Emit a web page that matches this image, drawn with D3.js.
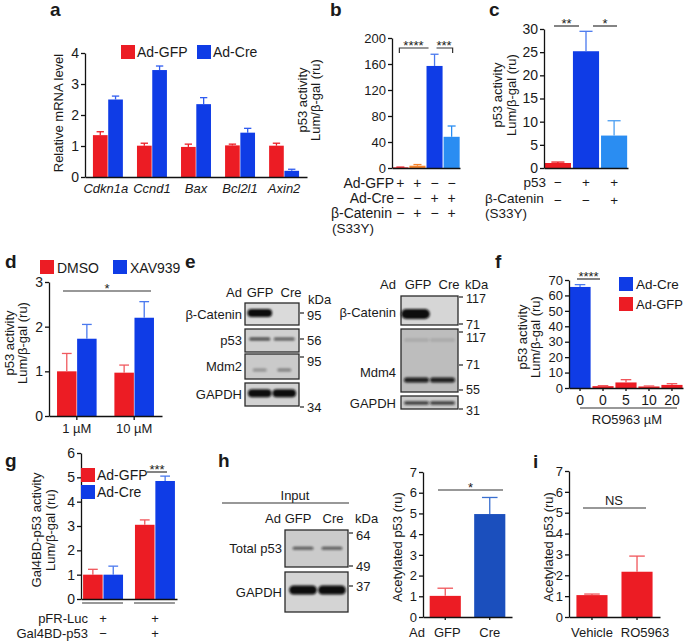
<!DOCTYPE html>
<html><head><meta charset="utf-8">
<script src="https://cdn.jsdelivr.net/npm/d3@7"></script>
<style>body{margin:0;background:#fff}</style>
</head><body><script>
// ================= DATA =================
const aGenes = ["Cdkn1a","Ccnd1","Bax","Bcl2l1","Axin2"];
const aSeries = ["Ad-GFP","Ad-Cre"];
const aGFP = [1.35,1.01,0.97,1.02,1.01];
const aGFPErr = [0.11,0.08,0.09,0.04,0.08];
const aCre = [2.5,3.45,2.35,1.43,0.2];
const aCreErr = [0.11,0.13,0.21,0.14,0.05];
const aTicks = [0,1,2,3,4];

const bConds = ["GFP","GFP+bCat","Cre","Cre+bCat"];
const bValues = [1,3.5,157,48];
const bErr = [0.4,1.8,18,16.6];
const bTicks = [0,40,80,120,160,200];
const bRowLabels = ["Ad-GFP","Ad-Cre","β-Catenin"];
const bRowSigns = [["+","+","−","−"],["−","−","+","+"],["−","+","−","+"]];

const cConds = ["ctrl","p53","p53+bCat"];
const cValues = [1.08,25.2,7.0];
const cErr = [0.2,4.3,3.2];
const cTicks = [0,5,10,15,20,25,30];
const cRowLabels = ["p53","β-Catenin"];
const cRowSigns = [["−","+","+"],["−","−","+"]];

const dDoses = ["1 µM","10 µM"];
const dSeries = ["DMSO","XAV939"];
const dDMSO = [1.0,0.97];
const dDMSOErr = [0.4,0.17];
const dXAV = [1.73,2.2];
const dXAVErr = [0.32,0.36];
const dTicks = [0,1,2,3];

const eLanes = ["GFP","Cre"];
const eLeftProteins = ["β-Catenin","p53","Mdm2","GAPDH"];
const eLeftMarkers = ["95","56","95","34"];
const eLeftBands = [[1,0],[0.7,0.6],[0.3,0.4],[1,1]];
const eRightProteins = ["β-Catenin","Mdm4","GAPDH"];
const eRightMarkers = ["117","71","117","71","55","31"];
const eRightBands = [[1,0],[0.9,0.9],[0.75,0.75]];

const fDoses = ["0","0","5","10","20"];
const fGroup = ["Ad-Cre","Ad-GFP","Ad-GFP","Ad-GFP","Ad-GFP"];
const fValues = [65.5,1.2,3.6,1.0,2.0];
const fErr = [1.5,0.3,1.8,0.3,0.8];
const fTicks = [0,10,20,30,40,50,60,70];

const gConds = ["no Gal4BD-p53","Gal4BD-p53"];
const gSeries = ["Ad-GFP","Ad-Cre"];
const gGFP = [1.0,3.05];
const gGFPErr = [0.22,0.2];
const gCre = [1.0,4.85];
const gCreErr = [0.35,0.2];
const gTicks = [0,1,2,3,4,5,6];
const gRowLabels = ["pFR-Luc","Gal4BD-p53"];
const gRowSigns = [["+","+"],["−","+"]];

const hLanes = ["GFP","Cre"];
const hProteins = ["Total p53","GAPDH"];
const hMarkers = ["64","49","37"];
const hBands = [[0.6,0.6],[1,1]];
const hValues = [1.02,4.97];
const hErr = [0.37,0.8];
const hTicks = [0,1,2,3,4,5,6,7];

const iConds = ["Vehicle","RO5963"];
const iValues = [1.05,2.17];
const iErr = [0.05,0.75];
const iTicks = [0,1,2,3,4,5,6,7];

// ================= STYLE =================
const FONT = '"Liberation Sans", Arial, Helvetica, sans-serif';
const RED = "#ec1c24", ORANGE = "#f4822a", BLUE = "#0f3ce6", LBLUE = "#2a8df2", DBLUE = "#1b4fbd";
const INK = "#1a1a1a";

const svg = d3.select("body").append("svg").attr("width",685).attr("height",641)
  .attr("font-family",FONT);
svg.append("rect").attr("width",685).attr("height",641).attr("fill","#fff");
const defs = svg.append("defs");
defs.append("filter").attr("id","blur").attr("x","-50%").attr("y","-100%").attr("width","200%").attr("height","300%")
  .append("feGaussianBlur").attr("stdDeviation",1.0);

function label(x,y,s,o={}){
  const t = svg.append("text").attr("x",x).attr("y",y).text(s)
    .attr("font-size",o.size||13).attr("text-anchor",o.anchor||"start").attr("fill",INK);
  if(o.bold) t.attr("font-weight","bold");
  if(o.italic) t.attr("font-style","italic");
  if(o.mid) t.attr("dy","0.35em");
  if(o.rot) t.attr("transform",`rotate(-90,${x},${y})`);
  return t;
}
function styleAxis(g,size){
  g.selectAll("path,line").attr("stroke","#111").attr("stroke-width",1.3);
  g.selectAll("text").attr("font-size",size).attr("fill",INK).attr("font-family",FONT);
}
function yAxis(scale,x,ticks,size){
  const g = svg.append("g").attr("transform",`translate(${x},0)`)
    .call(d3.axisLeft(scale).tickValues(ticks).tickFormat(d3.format("d")).tickSize(4).tickSizeOuter(0).tickPadding(2));
  styleAxis(g,size);
}
function xAxis(scale,y,tick){
  const g = svg.append("g").attr("transform",`translate(0,${y})`)
    .call(d3.axisBottom(scale).tickSize(tick).tickSizeOuter(0).tickFormat(""));
  styleAxis(g,12);
}
function bar(x,w,yScale,v,e,color,ecolor){
  const y0 = yScale(0), yt = yScale(v), ye = yScale(v+e), cx = x+w/2;
  svg.append("rect").attr("x",x).attr("y",yt).attr("width",w).attr("height",y0-yt).attr("fill",color);
  const cap = Math.min(16, w*0.5);
  const ec = ecolor||color;
  svg.append("line").attr("x1",cx).attr("x2",cx).attr("y1",yt).attr("y2",ye).attr("stroke",ec).attr("stroke-width",1.3);
  svg.append("line").attr("x1",cx-cap/2).attr("x2",cx+cap/2).attr("y1",ye).attr("y2",ye).attr("stroke",ec).attr("stroke-width",1.3);
}
function hline(x1,x2,y,w){
  svg.append("line").attr("x1",x1).attr("x2",x2).attr("y1",y).attr("y2",y).attr("stroke","#333").attr("stroke-width",w||1.2);
}
function sig(x1,x2,y,s,size){
  hline(x1,x2,y);
  label((x1+x2)/2,y+2,s,{anchor:"middle",size:size||13});
}
function swatch(x,y,color){
  svg.append("rect").attr("x",x).attr("y",y).attr("width",14).attr("height",14).attr("fill",color);
}
function box(x0,x1,y0,y1,fill){
  svg.append("rect").attr("x",x0).attr("y",y0).attr("width",x1-x0).attr("height",y1-y0)
    .attr("fill",fill).attr("stroke","#2a2a2a").attr("stroke-width",1.3);
}
function band(cx,cy,w,h,op){
  if(op<=0) return;
  svg.append("rect").attr("x",cx-w/2).attr("y",cy-h/2).attr("width",w).attr("height",h)
    .attr("rx",Math.min(h/2,w/2)).attr("fill","#0c0c0c").attr("opacity",op).attr("filter","url(#blur)");
}
function marker(x,y,s,ly,size){
  svg.append("line").attr("x1",x).attr("x2",x+4).attr("y1",y).attr("y2",y).attr("stroke","#222").attr("stroke-width",1.2);
  label(x+7,ly==null?y:ly,s,{mid:true,size:size||13});
}

// ================= PANEL a =================
label(50,16,"a",{bold:true,size:19});
{
  const y = d3.scaleLinear().domain([0,4]).range([177,53]);
  const x = d3.scaleBand().domain(aGenes).range([85,307]).paddingInner(0.32).paddingOuter(0.18);
  const xs = d3.scaleBand().domain(aSeries).range([0,x.bandwidth()]).paddingInner(0.04);
  aGenes.forEach((g,i)=>{
    bar(x(g)+xs("Ad-GFP"),xs.bandwidth(),y,aGFP[i],aGFPErr[i],RED);
    bar(x(g)+xs("Ad-Cre"),xs.bandwidth(),y,aCre[i],aCreErr[i],BLUE,"#2f5cf0");
    label(x(g)+x.bandwidth()/2+(i===0?-2:0),193,g,{anchor:"middle",italic:true,size:13});
  });
  xAxis(x,y(0),0);
  yAxis(y,85,aTicks,14);
  label(58,113,"Relative mRNA level",{anchor:"middle",mid:true,rot:true,size:13});
  swatch(121,45,RED); label(137,57,aSeries[0],{size:14});
  swatch(197,45,BLUE); label(213,57,aSeries[1],{size:14});
}

// ================= PANEL b =================
label(330,16,"b",{bold:true,size:19});
{
  const y = d3.scaleLinear().domain([0,200]).range([168,38]);
  const x = d3.scaleBand().domain(bConds).range([392,460]).paddingInner(0.06).paddingOuter(0.02);
  const cols = [RED,ORANGE,BLUE,LBLUE];
  const ecols = [RED,ORANGE,"#4a79ee",LBLUE];
  bConds.forEach((c,i)=>bar(x(c),x.bandwidth(),y,bValues[i],bErr[i],cols[i],ecols[i]));
  xAxis(x,y(0),0);
  yAxis(y,392,bTicks,13);
  label(302,100,"p53 activity",{anchor:"middle",mid:true,rot:true,size:13});
  label(315,100,"Lum/β-gal (ru)",{anchor:"middle",mid:true,rot:true,size:13});
  const cx = c=>x(c)+x.bandwidth()/2;
  const by = 48;
  svg.append("path").attr("d",`M${cx(bConds[0])-1},${by+5}V${by}H${cx(bConds[2])-6}`).attr("fill","none").attr("stroke","#333").attr("stroke-width",1.2);
  svg.append("path").attr("d",`M${cx(bConds[2])+2},${by}H${cx(bConds[3])+1}V${by+5}`).attr("fill","none").attr("stroke","#333").attr("stroke-width",1.2);
  label((cx(bConds[0])+cx(bConds[2]))/2-4,by+2,"****",{anchor:"middle",size:13});
  label((cx(bConds[2])+cx(bConds[3]))/2+1,by+2,"***",{anchor:"middle",size:13});
  const rowY = [188,203,218];
  bRowLabels.forEach((r,ri)=>{
    label(ri==2?331:394,rowY[ri],r,{anchor:ri==2?"start":"end",size:14});
    bConds.forEach((c,i)=>label(cx(c),rowY[ri],bRowSigns[ri][i],{anchor:"middle",size:14}));
  });
  label(332,233,"(S33Y)",{size:13.5});
}

// ================= PANEL c =================
label(489,16,"c",{bold:true,size:19});
{
  const y = d3.scaleLinear().domain([0,30]).range([168,29]);
  const x = d3.scaleBand().domain(cConds).range([544,628]).paddingInner(0.07).paddingOuter(0.03);
  const cols = [RED,BLUE,LBLUE];
  const ecols = [RED,"#4a79ee","#4a9ef2"];
  cConds.forEach((c,i)=>bar(x(c),x.bandwidth(),y,cValues[i],cErr[i],cols[i],ecols[i]));
  xAxis(x,y(0),0);
  yAxis(y,544,cTicks,14);
  label(497,95,"p53 activity",{anchor:"middle",mid:true,rot:true,size:13});
  label(511,95,"Lum/β-gal (ru)",{anchor:"middle",mid:true,rot:true,size:13});
  sig(554,579,26,"**");
  sig(593,617,26,"*");
  const cx = c=>x(c)+x.bandwidth()/2;
  label(546,187,cRowLabels[0],{anchor:"end",size:13.5});
  cConds.forEach((c,i)=>label(cx(c),187,cRowSigns[0][i],{anchor:"middle",size:13.5}));
  label(485,203,cRowLabels[1],{size:13.5});
  cConds.forEach((c,i)=>label(cx(c),205,cRowSigns[1][i],{anchor:"middle",size:13.5}));
  label(485,218,"(S33Y)",{size:13.5});
}

// ================= PANEL d =================
label(5,268,"d",{bold:true,size:19});
{
  const y = d3.scaleLinear().domain([0,3]).range([416,282]);
  const x = d3.scaleBand().domain(dDoses).range([49,162]).paddingInner(0.31).paddingOuter(0.14);
  const xs = d3.scaleBand().domain(dSeries).range([0,x.bandwidth()]).paddingInner(0.03);
  dDoses.forEach((d,i)=>{
    bar(x(d)+xs("DMSO"),xs.bandwidth(),y,dDMSO[i],dDMSOErr[i],RED,"#f05a5f");
    bar(x(d)+xs("XAV939"),xs.bandwidth(),y,dXAV[i],dXAVErr[i],BLUE,"#4a79ee");
    label(x(d)+x.bandwidth()/2,433,d,{anchor:"middle",size:13});
  });
  xAxis(x,y(0),4);
  yAxis(y,49,dTicks,14);
  label(9,343,"p53 activity",{anchor:"middle",mid:true,rot:true,size:13});
  label(22,343,"Lum/β-gal (ru)",{anchor:"middle",mid:true,rot:true,size:13});
  sig(63,151,291,"*");
  swatch(40,260,RED); label(57,273,dSeries[0],{size:14});
  swatch(113,260,BLUE); label(130,273,dSeries[1],{size:14});
}

// ================= PANEL e =================
label(185,268,"e",{bold:true,size:19});
{
  const lx = d3.scaleBand().domain(eLanes).range([247,297]).padding(0.04);
  const rows = [[303,325],[329,352],[354,379],[383,406]];
  const fills = ["#dadada","#d0d0d0","#cacaca","#d2d2d2"];
  const bpos = [0.45,0.43,0.64,0.45], bh = [8,3,3,8], bw = [1.05,0.9,0.6,1.0];
  label(226,297,"Ad",{size:13});
  label(260,297,"GFP",{anchor:"middle",size:13});
  label(291,297,"Cre",{anchor:"middle",size:13});
  label(308,304,"kDa",{size:13});
  eLeftProteins.forEach((p,ri)=>{
    const [y0,y1] = rows[ri];
    box(245,299,y0,y1,fills[ri]);
    label(242,(y0+y1)/2,p,{anchor:"end",mid:true,size:13});
    eLanes.forEach((l,li)=>band(lx(l)+lx.bandwidth()/2,y0+(y1-y0)*bpos[ri],lx.bandwidth()*bw[ri],bh[ri],eLeftBands[ri][li]));
  });
  const lmY = [313,339,357,407];
  const lmL = [315,340,361,407];
  eLeftMarkers.forEach((m,i)=>marker(300,lmY[i],m,lmL[i]));

  const rx = d3.scaleBand().domain(eLanes).range([403,456]).padding(0.04);
  const rrows = [[296,325],[329,392],[396,409]];
  const rfills = ["#d6d6d6","#bdbdbd","#cbcbcb"];
  const rpos = [0.62,0.81,0.54], rh = [10,5,3.5], rw = [1.15,1.0,1.0];
  label(380,289,"Ad",{size:13});
  label(418,289,"GFP",{anchor:"middle",size:13});
  label(449,289,"Cre",{anchor:"middle",size:13});
  label(465,289,"kDa",{size:13});
  eRightProteins.forEach((p,ri)=>{
    const [y0,y1] = rrows[ri];
    box(401,458,y0,y1,rfills[ri]);
    label(396,ri==1?372:(ri==0?312:403),p,{anchor:"end",mid:true,size:13});
    eLanes.forEach((l,li)=>band(rx(l)+rx.bandwidth()/2+(ri==0?-1:0),y0+(y1-y0)*rpos[ri],rx.bandwidth()*rw[ri],rh[ri],eRightBands[ri][li]));
  });
  eLanes.forEach(l=>band(rx(l)+rx.bandwidth()/2,340,rx.bandwidth(),3,0.12));
  const rmY = [297,324,332,365,390,409];
  const rmL = [299,325,338,365,390,411];
  eRightMarkers.forEach((m,i)=>marker(459,rmY[i],m,rmL[i],12.5));
}

// ================= PANEL f =================
label(495,268,"f",{bold:true,size:19});
{
  const y = d3.scaleLinear().domain([0,70]).range([388,280]);
  const x = d3.scaleBand().domain(d3.range(fDoses.length)).range([569,683]).paddingInner(0.08).paddingOuter(0.02);
  fDoses.forEach((d,i)=>{
    const col = fGroup[i]==="Ad-Cre"?BLUE:RED;
    bar(x(i),x.bandwidth(),y,fValues[i],fErr[i],col,fGroup[i]==="Ad-Cre"?"#4a79ee":"#f0555a");
    label(x(i)+x.bandwidth()/2,405,d,{anchor:"middle",size:14});
  });
  xAxis(x,y(0),3);
  yAxis(y,569,fTicks,13);
  label(522,337,"p53 activity",{anchor:"middle",mid:true,rot:true,size:13});
  label(535,337,"Lum/β-gal (ru)",{anchor:"middle",mid:true,rot:true,size:13});
  sig(577,600,279,"****");
  hline(580,677,408);
  label(627,424,"RO5963 µM",{anchor:"middle",size:13});
  swatch(619,277,BLUE); label(636,289,"Ad-Cre",{size:13.5});
  swatch(619,297,RED); label(636,309,"Ad-GFP",{size:13});
}

// ================= PANEL g =================
label(5,467,"g",{bold:true,size:19});
{
  const y = d3.scaleLinear().domain([0,6]).range([599,453]);
  const x = d3.scaleBand().domain(gConds).range([81,177]).paddingInner(0.23).paddingOuter(0.04);
  const xs = d3.scaleBand().domain(gSeries).range([0,x.bandwidth()]).paddingInner(0.04);
  gConds.forEach((c,i)=>{
    bar(x(c)+xs("Ad-GFP"),xs.bandwidth(),y,gGFP[i],gGFPErr[i],RED,"#f0555a");
    bar(x(c)+xs("Ad-Cre"),xs.bandwidth(),y,gCre[i],gCreErr[i],BLUE,"#4a79ee");
    hline(x(c)-1,x(c)+x.bandwidth(),603,1.2);
  });
  xAxis(x,y(0),0);
  yAxis(y,81,gTicks,14);
  label(36,530,"Gal4BD-p53 activity",{anchor:"middle",mid:true,rot:true,size:13});
  label(50,530,"Lum/β-gal (ru)",{anchor:"middle",mid:true,rot:true,size:13});
  sig(147,167,472,"***");
  swatch(81,468,RED); label(97,480,gSeries[0],{size:14});
  swatch(81,485,BLUE); label(97,497,gSeries[1],{size:14});
  const rowY = [623,638];
  gRowLabels.forEach((r,ri)=>{
    label(88,rowY[ri],r,{anchor:"end",size:13});
    gConds.forEach((c,i)=>label(x(c)+x.bandwidth()/2,rowY[ri],gRowSigns[ri][i],{anchor:"middle",size:13}));
  });
}

// ================= PANEL h =================
label(218,467,"h",{bold:true,size:19});
{
  label(295,500,"Input",{anchor:"middle",size:13});
  hline(222,349,503,1.2);
  label(265,523,"Ad",{size:13});
  label(298,523,"GFP",{anchor:"middle",size:13});
  label(333,523,"Cre",{anchor:"middle",size:13});
  label(355,523,"kDa",{size:13});
  const lx = d3.scaleBand().domain(hLanes).range([288,347]).padding(0.04);
  const rows = [[530,567],[572,612]];
  const fills = ["#cbcbcb","#d4d4d4"];
  const bpos = [0.49,0.45], bh = [3,9], bw = [0.75,1.0];
  hProteins.forEach((p,ri)=>{
    const [y0,y1] = rows[ri];
    box(285,348,y0,y1,fills[ri]);
    label(282,(y0+y1)/2,p,{anchor:"end",mid:true,size:13});
    hLanes.forEach((l,li)=>band(lx(l)+lx.bandwidth()/2,y0+(y1-y0)*bpos[ri],lx.bandwidth()*bw[ri],bh[ri],hBands[ri][li]));
  });
  const mY = [533,566,586];
  const mL = [535,566,586];
  hMarkers.forEach((m,i)=>marker(349,mY[i],m,mL[i]));

  const y = d3.scaleLinear().domain([0,7]).range([617,472]);
  const x = d3.scaleBand().domain(hLanes).range([423,512]).paddingInner(0.3).paddingOuter(0.15);
  bar(x("GFP"),x.bandwidth(),y,hValues[0],hErr[0],RED,"#f0555a");
  bar(x("Cre"),x.bandwidth(),y,hValues[1],hErr[1],DBLUE,"#3a6fd0");
  xAxis(x,y(0),3);
  yAxis(y,423,hTicks,13);
  label(397,547,"Acetylated p53 (ru)",{anchor:"middle",mid:true,rot:true,size:13});
  sig(438,503,490,"*");
  label(409,637,"Ad",{size:13});
  hLanes.forEach(l=>label(x(l)+x.bandwidth()/2+(l==="GFP"?2:0),637,l,{anchor:"middle",size:13}));
}

// ================= PANEL i =================
label(533,468,"i",{bold:true,size:19});
{
  const y = d3.scaleLinear().domain([0,7]).range([617,471]);
  const x = d3.scaleBand().domain(iConds).range([569,660]).paddingInner(0.31).paddingOuter(0.165);
  iConds.forEach((c,i)=>{
    bar(x(c),x.bandwidth(),y,iValues[i],iErr[i],RED,"#f0555a");
    label(x(c)+x.bandwidth()/2+(i?8:0),637,c,{anchor:"middle",size:13});
  });
  xAxis(x,y(0),3);
  yAxis(y,569,iTicks,13);
  label(548,547,"Acetylated p53 (ru)",{anchor:"middle",mid:true,rot:true,size:13});
  hline(583,646,508);
  label(614,507,"NS",{anchor:"middle",size:13}).attr("dy","-0.15em");
}
</script></body></html>
